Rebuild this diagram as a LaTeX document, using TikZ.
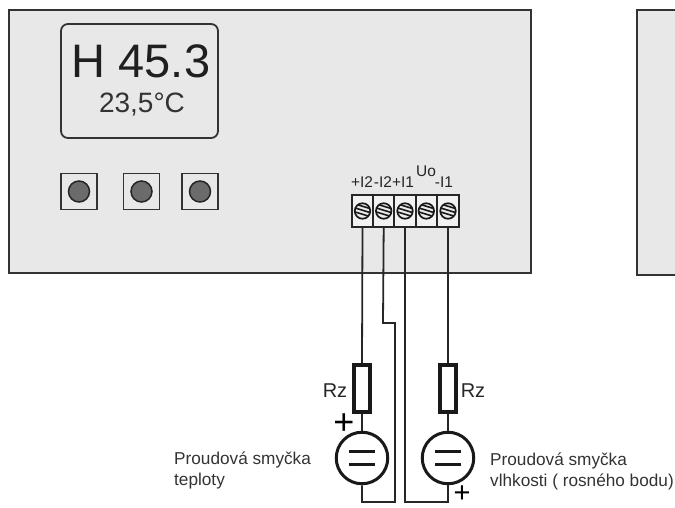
\documentclass[tikz,border=0pt]{standalone}
\usepackage{fontspec}
\setmainfont{Liberation Sans}
\begin{document}
\begin{tikzpicture}[x=1pt,y=-1pt,
panel/.style={draw=black!80,line width=2.2pt,fill=black!9,inner sep=0pt},
btnbox/.style={draw=black!80,line width=1.7pt,minimum size=36pt,inner sep=0pt},
btndot/.style={circle,draw=black!85,line width=1.5pt,fill=black!58,minimum size=21pt,inner sep=0pt},
termbox/.style={draw=black!85,line width=1.8pt,fill=black!5,minimum width=21.3pt,minimum height=32pt,inner sep=0pt},
screw/.style={circle,draw=black!90,line width=1.7pt,fill=black!8,minimum size=15.5pt,inner sep=0pt,path picture={
\draw [line width=1.6pt,black!90] ([shift={(-9pt,-0.5pt)}]path picture bounding box.center) -- ([shift={(9pt,-6pt)}]path picture bounding box.center);
\draw [line width=1.6pt,black!90] ([shift={(-9pt,3.5pt)}]path picture bounding box.center) -- ([shift={(9pt,-2pt)}]path picture bounding box.center);
\draw [line width=1.6pt,black!90] ([shift={(-9pt,7.5pt)}]path picture bounding box.center) -- ([shift={(9pt,2pt)}]path picture bounding box.center);
}},
rzbox/.style={draw=black!90,line width=3.8pt,fill=white,minimum width=16.5pt,minimum height=47.5pt,inner sep=0pt},
source/.style={circle,draw=black!90,line width=3pt,fill=white,minimum size=51.5pt,inner sep=0pt,path picture={
\draw [line width=3.2pt,black!90] ([shift={(-13pt,-6.5pt)}]path picture bounding box.center) -- ([shift={(13pt,-6.5pt)}]path picture bounding box.center);
\draw [line width=3.2pt,black!90] ([shift={(-13pt,6.5pt)}]path picture bounding box.center) -- ([shift={(13pt,6.5pt)}]path picture bounding box.center);
}},
wire/.style={draw=black!85,line width=1.8pt},
termlabel/.style={font=\fontsize{15.5}{18}\selectfont,text=black!85,inner sep=0pt},
rzlabel/.style={font=\fontsize{20}{24}\selectfont,text=black!85,inner sep=0pt},
pluslabel/.style={font=\fontsize{29}{34}\selectfont,text=black,inner sep=0pt},
note/.style={font=\fontsize{17.2}{20.5}\selectfont,text=black!80,align=left,anchor=north west,inner sep=0pt}]
\useasboundingbox (0,0) rectangle (675,508);
\node [panel,minimum width=522pt,minimum height=263pt] (panelA) at (270,141.5) {};
\node [panel,minimum width=63pt,minimum height=265pt] (panelB) at (668.5,142.5) {};
\node [draw=black!80,line width=1.8pt,rounded corners=7pt,minimum width=157pt,minimum height=114pt,inner sep=0pt] (disp) at (139.5,81) {};
\node [font=\fontsize{47}{50}\selectfont,text=black!88,inner sep=0pt] (dispH) at (141,61) {H 45.3};
\node [font=\fontsize{28}{30}\selectfont,text=black!80,inner sep=0pt] (dispT) at (142,105) {23,5°C};
\node [btnbox] (btnA) at (79,191.5) {};
\node [btnbox] (btnB) at (141.5,191.5) {};
\node [btnbox] (btnC) at (200,191.5) {};
\node [btndot] (dotA) at (btnA) {};
\node [btndot] (dotB) at (btnB) {};
\node [btndot] (dotC) at (btnC) {};
\node [termbox] (termA) at (362.5,211) {};
\node [termbox] (termB) at (383.7,211) {};
\node [termbox] (termC) at (405,211) {};
\node [termbox] (termD) at (426.3,211) {};
\node [termbox] (termE) at (448,211) {};
\node [screw] (screwA) at (termA) {};
\node [screw] (screwB) at (termB) {};
\node [screw] (screwC) at (termC) {};
\node [screw] (screwD) at (termD) {};
\node [screw] (screwE) at (termE) {};
\node [termlabel] (lblA) at (362,182) {+I2};
\node [termlabel] (lblB) at (383,182) {-I2};
\node [termlabel] (lblC) at (403,182) {+I1};
\node [termlabel] (lblD) at (426,171) {Uo};
\node [termlabel] (lblE) at (444,182) {-I1};
\node [rzbox] (rzA) at (362,388.5) {};
\node [rzbox] (rzB) at (448,388.5) {};
\node [source] (srcA) at (362,458) {};
\node [source] (srcB) at (448,458) {};
\coordinate (jogA) at (383,323);
\coordinate (jogB) at (395,323);
\coordinate (baseA) at (395,502);
\coordinate (baseB) at (405,502);
\draw [wire] (termA.south) -- (rzA.north);
\draw [wire] (rzA.south) -- (srcA.north);
\draw [wire] (termB.south) -- (jogA) -- (jogB) -- (baseA) -| (srcA.south);
\draw [wire] (termC.south) -- (baseB) -| (srcB.south);
\draw [wire] (termE.south) -- (rzB.north);
\draw [wire] (rzB.south) -- (srcB.north);
\node [rzlabel] (rzlblA) at (335,391) {Rz};
\node [rzlabel] (rzlblB) at (473,391) {Rz};
\node [pluslabel,font=\fontsize{36}{40}\selectfont] (plusA) at (344,424) {+};
\node [pluslabel] (plusB) at (462,494) {+};
\node [note] (noteA) at (174,452) {Proudová smyčka\\teploty};
\node [note] (noteB) at (490,453) {Proudová smyčka\\vlhkosti ( rosného bodu)};
\end{tikzpicture}
\end{document}
